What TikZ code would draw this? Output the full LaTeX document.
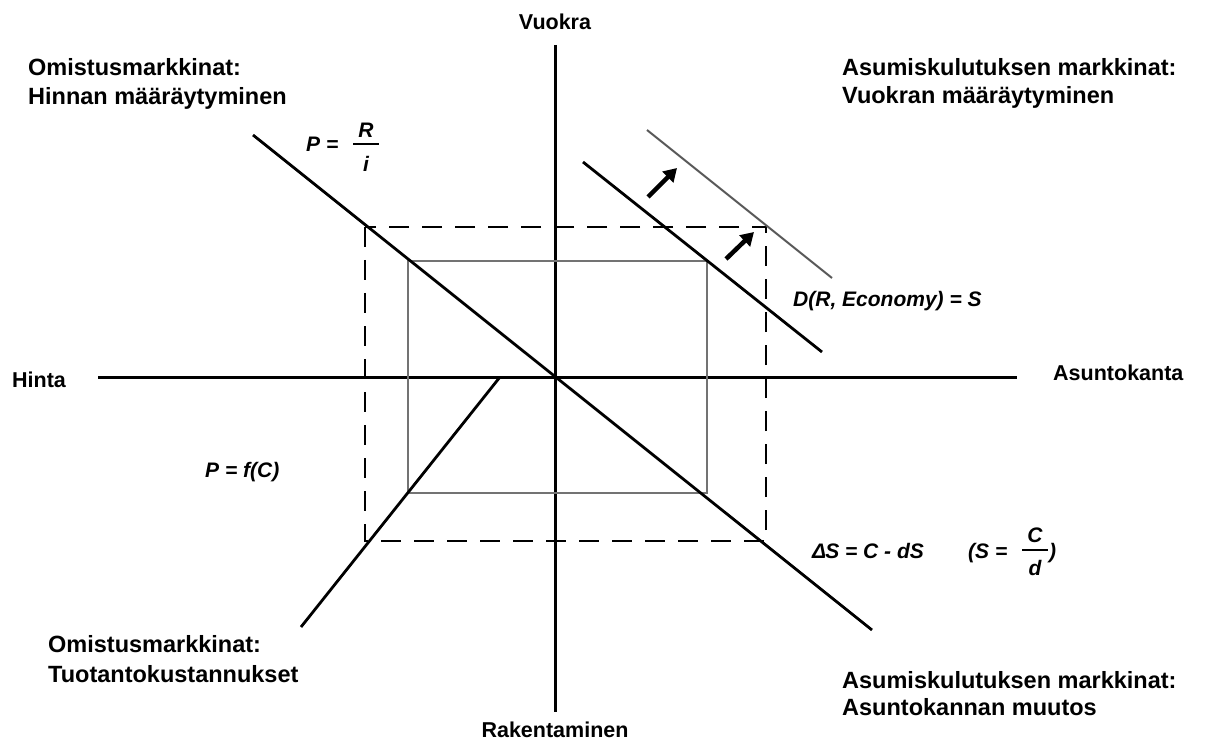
\documentclass[tikz,border=0pt]{standalone}
\usepackage{fontspec}
\setmainfont{Liberation Sans}
\usetikzlibrary{arrows.meta}
\begin{document}
\begin{tikzpicture}[x=1pt,y=-1pt,
  axis/.style={line width=3pt},
  curve/.style={line width=2.8pt},
  shifted/.style={line width=2pt,black!65},
  guide/.style={line width=2.5pt,dash pattern=on 20pt off 13pt},
  inner/.style={line width=2pt,black!55},
  push/.style={line width=4.5pt,-{Triangle[length=13pt,width=15pt]}},
  bar/.style={line width=1.8pt},
  title/.style={font=\fontsize{23.5}{28}\selectfont\bfseries,inner sep=0pt,anchor=base west},
  axlab/.style={font=\fontsize{21.5}{26}\selectfont\bfseries,inner sep=0pt,anchor=base},
  eq/.style={font=\fontsize{21}{25}\selectfont\bfseries\itshape,inner sep=0pt,anchor=base west},
  eqc/.style={font=\fontsize{21}{25}\selectfont\bfseries\itshape,inner sep=0pt,anchor=base}]
\useasboundingbox (0,0) rectangle (1207,743);
% axes
\coordinate (vt) at (555,45);
\coordinate (vb) at (555,712);
\coordinate (hl) at (98,377);
\coordinate (hr) at (1017,377);
\draw[axis] (vt) -- (vb);
\draw[axis] (hl) -- (hr);
% rectangles
\draw[inner] (408,261) rectangle (707,493);
\draw[guide] (365,227) rectangle (766,541);
% curves
\coordinate (d1) at (253,135);
\coordinate (d2) at (872,630);
\draw[curve] (d1) -- (d2);
\coordinate (c1) at (500,377);
\coordinate (c2) at (301,627);
\draw[curve] (c1) -- (c2);
\coordinate (s1) at (583,162);
\coordinate (s2) at (822,352);
\draw[curve] (s1) -- (s2);
\coordinate (g1) at (647,130);
\coordinate (g2) at (832,278);
\draw[shifted] (g1) -- (g2);
% shift arrows
\coordinate (a1) at (648,197);
\coordinate (a2) at (677,168);
\coordinate (b1) at (726,259);
\coordinate (b2) at (754,232);
\draw[push] (a1) -- (a2);
\draw[push] (b1) -- (b2);
% axis labels
\node[axlab] (vuokra) at (555,30) {Vuokra};
\node[axlab] (rak) at (555,737) {Rakentaminen};
\node[axlab,anchor=base west] (hinta) at (12,387) {Hinta};
\node[axlab,anchor=base west] (kanta) at (1053,380) {Asuntokanta};
% corner titles
\node[title] (tl1) at (28,76) {Omistusmarkkinat:};
\node[title] (tl2) at (28,105) {Hinnan määräytyminen};
\node[title] (tr1) at (842,76) {Asumiskulutuksen markkinat:};
\node[title] (tr2) at (842,104) {Vuokran määräytyminen};
\node[title] (bl1) at (48,652) {Omistusmarkkinat:};
\node[title] (bl2) at (48,682) {Tuotantokustannukset};
\node[title] (br1) at (842,688) {Asumiskulutuksen markkinat:};
\node[title] (br2) at (842,715) {Asuntokannan muutos};
% equations
\node[eq] (p1) at (306,152) {P =};
\node[eqc] (pR) at (366,138) {R};
\node[eqc] (pi) at (366,172) {i};
\draw[bar] (353,144) -- (379,144);
\node[eq] (dfun) at (793,306) {D(R, Economy) = S};
\node[eq] (pf) at (205,477) {P = f(C)};
\node[eq] (ds) at (812,558) {Δ\kern-1pt S = C - dS};
\node[eq] (sp) at (968,558) {(S =};
\node[eqc] (sC) at (1035,542) {C};
\node[eqc] (sd) at (1035,575) {d};
\draw[bar] (1022,550) -- (1048,550);
\node[eq] (sr) at (1049,558) {)};
\end{tikzpicture}
\end{document}
